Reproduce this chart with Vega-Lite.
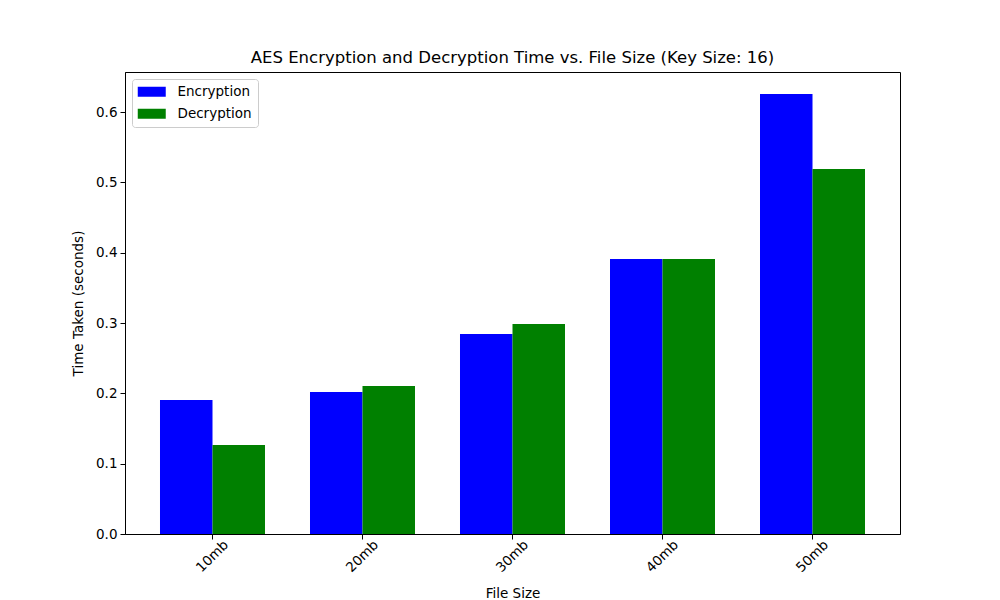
{
  "$schema": "https://vega.github.io/schema/vega-lite/v6.json",
  "width": 775,
  "height": 462,
  "autosize": {"type": "none"},
  "padding": {"left": 125, "top": 72, "right": 100, "bottom": 66},
  "background": "white",
  "title": {
    "text": "AES Encryption and Decryption Time vs. File Size (Key Size: 16)",
    "font": "DejaVu Sans",
    "fontSize": 16.5,
    "fontWeight": "normal",
    "color": "black",
    "offset": 6
  },
  "config": {
    "view": {"stroke": "black", "strokeWidth": 1},
    "axis": {
      "labelFont": "DejaVu Sans",
      "titleFont": "DejaVu Sans",
      "labelFontSize": 13.5,
      "titleFontSize": 13.5,
      "titleFontWeight": "normal",
      "labelColor": "black",
      "titleColor": "black",
      "domainColor": "black",
      "tickColor": "black",
      "tickSize": 5,
      "grid": false
    }
  },
  "data": {
    "values": [
      {"size": "10mb", "type": "Encryption", "time": 0.1905},
      {"size": "10mb", "type": "Decryption", "time": 0.1265},
      {"size": "20mb", "type": "Encryption", "time": 0.2019},
      {"size": "20mb", "type": "Decryption", "time": 0.2104},
      {"size": "30mb", "type": "Encryption", "time": 0.2844},
      {"size": "30mb", "type": "Decryption", "time": 0.2986},
      {"size": "40mb", "type": "Encryption", "time": 0.391},
      {"size": "40mb", "type": "Decryption", "time": 0.391},
      {"size": "50mb", "type": "Encryption", "time": 0.6256},
      {"size": "50mb", "type": "Decryption", "time": 0.519}
    ]
  },
  "mark": {"type": "bar"},
  "encoding": {
    "x": {
      "field": "size",
      "type": "nominal",
      "sort": ["10mb", "20mb", "30mb", "40mb", "50mb"],
      "scale": {"paddingInner": 0.3, "paddingOuter": 0.2333},
      "axis": {
        "title": "File Size",
        "labelAngle": -45,
        "labelAlign": "center",
        "labelBaseline": "middle",
        "labelPadding": 17,
        "titlePadding": 12
      }
    },
    "xOffset": {
      "field": "type",
      "type": "nominal",
      "sort": ["Encryption", "Decryption"],
      "scale": {"paddingInner": 0, "paddingOuter": 0}
    },
    "y": {
      "field": "time",
      "type": "quantitative",
      "scale": {"domain": [0, 0.657], "nice": false, "zero": true},
      "axis": {
        "title": "Time Taken (seconds)",
        "values": [0, 0.1, 0.2, 0.3, 0.4, 0.5, 0.6],
        "format": ".1f",
        "labelPadding": 3,
        "titlePadding": 10
      }
    },
    "color": {
      "field": "type",
      "type": "nominal",
      "sort": ["Encryption", "Decryption"],
      "scale": {"domain": ["Encryption", "Decryption"], "range": ["#0000ff", "#008000"]},
      "legend": {
        "title": null,
        "orient": "top-left",
        "offset": 7,
        "padding": 6,
        "strokeColor": "#cccccc",
        "fillColor": "white",
        "cornerRadius": 3,
        "symbolType": "M-2.8,-1H2.8V1H-2.8Z",
        "symbolSize": 100,
        "symbolOffset": 7,
        "symbolStrokeWidth": 0,
        "labelFont": "DejaVu Sans",
        "labelFontSize": 13.5,
        "labelColor": "black",
        "labelOffset": 19,
        "rowPadding": 7
      }
    }
  }
}
